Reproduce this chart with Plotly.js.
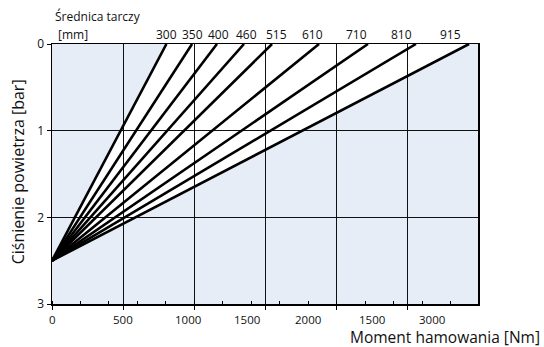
<!DOCTYPE html>
<html><head><meta charset="utf-8">
<script src="https://cdn.plot.ly/plotly-3.0.1.min.js"></script>
<style>html,body{margin:0;padding:0;background:#fff}#chart{width:544px;height:347px}</style>
</head><body><div id="chart"></div>
<script>
// Disc diameters [mm]
const diameters = ['300','350','400','460','515','610','710','810','915'];
// Braking torque [Nm] reached at 0 bar for each disc line
const torqueAtZero = [804, 984, 1159, 1349, 1546, 1876, 2220, 2557, 2930];
// Positions (Nm) of the diameter labels above the chart
const diameterLabelX = [801, 984, 1173, 1363, 1574, 1827, 2136, 2459, 2803];
// Common starting point of all lines: torque 0 at this pressure [bar]
const originTorque = 0;
const originPressure = 2.5;
// X tick labels as printed on the original (positions in Nm)
const xTickLabelVals = [0, 499, 956, 1370, 1799, 2248, 2670];
const xTickLabelText = ['0', '500', '1000', '1500', '2000', '1500', '3000'];
const xGridVals = [0, 500, 1000, 1500, 2000, 2500];
const yTickVals = [0, 1, 2, 3];

const FONT = 'Open Sans, Noto Sans, DejaVu Sans, sans-serif';

const traces = diameters.map((d, i) => ({
  type: 'scatter', mode: 'lines', name: d,
  x: [originTorque, torqueAtZero[i]],
  y: [originPressure, 0],
  line: {color: '#000', width: 2.6},
  hoverinfo: 'skip', showlegend: false
}));

const annotations = [];
diameters.forEach((d, i) => annotations.push({
  xref: 'x', yref: 'paper', x: diameterLabelX[i], y: 1.038,
  xanchor: 'center', yanchor: 'middle', showarrow: false, borderpad: 0,
  text: d, font: {family: FONT, size: 12, color: '#111'}
}));
xTickLabelVals.forEach((v, i) => annotations.push({
  xref: 'x', yref: 'paper', x: v, y: -0.060,
  xanchor: 'center', yanchor: 'middle', showarrow: false, borderpad: 0,
  text: xTickLabelText[i], font: {family: FONT, size: 11.5, color: '#111'}
}));
annotations.push(
  {xref: 'paper', yref: 'paper', x: 0.005, y: 1.104, xanchor: 'left', yanchor: 'middle', showarrow: false, borderpad: 0,
   text: 'Średnica tarczy', font: {family: FONT, size: 12, color: '#111'}},
  {xref: 'paper', yref: 'paper', x: 0.012, y: 1.038, xanchor: 'left', yanchor: 'middle', showarrow: false, borderpad: 0,
   text: '[mm]', font: {family: FONT, size: 12, color: '#111'}},
  {xref: 'paper', yref: 'paper', x: 1.148, y: -0.127, xanchor: 'right', yanchor: 'middle', showarrow: false, borderpad: 0,
   text: 'Moment hamowania [Nm]', font: {family: FONT, size: 15.5, color: '#111'}},
  {xref: 'paper', yref: 'paper', x: -0.079, y: 0.508, xanchor: 'center', yanchor: 'middle', showarrow: false, borderpad: 0,
   textangle: -90, text: 'Ciśnienie powietrza [bar]', font: {family: FONT, size: 16, color: '#111'}}
);

const last = torqueAtZero.length - 1;
const fanPath = 'M ' + originTorque + ',' + originPressure +
  ' L ' + torqueAtZero[0] + ',0 L ' + torqueAtZero[last] + ',0 Z';

const layout = {
  width: 544, height: 347,
  margin: {l: 52, r: 66, t: 44, b: 43},
  paper_bgcolor: '#fff', plot_bgcolor: '#e7edf6',
  font: {family: FONT, size: 12, color: '#111'},
  showlegend: false,
  xaxis: {
    range: [0, 2993], tickmode: 'array', tickvals: xGridVals,
    showticklabels: false, ticks: 'outside', ticklen: 4, tickcolor: '#000', tickwidth: 1,
    showgrid: true, gridcolor: '#111', gridwidth: 1, zeroline: false,
    showline: true, linecolor: '#000', linewidth: 1.5, mirror: true,
    minor: {tickmode: 'linear', tick0: 0, dtick: 200, ticks: 'inside', ticklen: 3, tickcolor: '#000', showgrid: false},
    fixedrange: true
  },
  yaxis: {
    range: [3, 0], tickmode: 'array', tickvals: yTickVals,
    ticks: 'outside', ticklen: 4, tickcolor: '#000',
    tickfont: {family: FONT, size: 12, color: '#111'},
    showgrid: true, gridcolor: '#111', gridwidth: 1, zeroline: false,
    showline: true, linecolor: '#000', linewidth: 1.5, mirror: true,
    fixedrange: true
  },
  shapes: [{type: 'path', xref: 'x', yref: 'y', path: fanPath, fillcolor: '#ffffff', line: {width: 0}, layer: 'below'}],
  annotations: annotations
};

Plotly.newPlot('chart', traces, layout, {displayModeBar: false, staticPlot: true});
</script></body></html>
